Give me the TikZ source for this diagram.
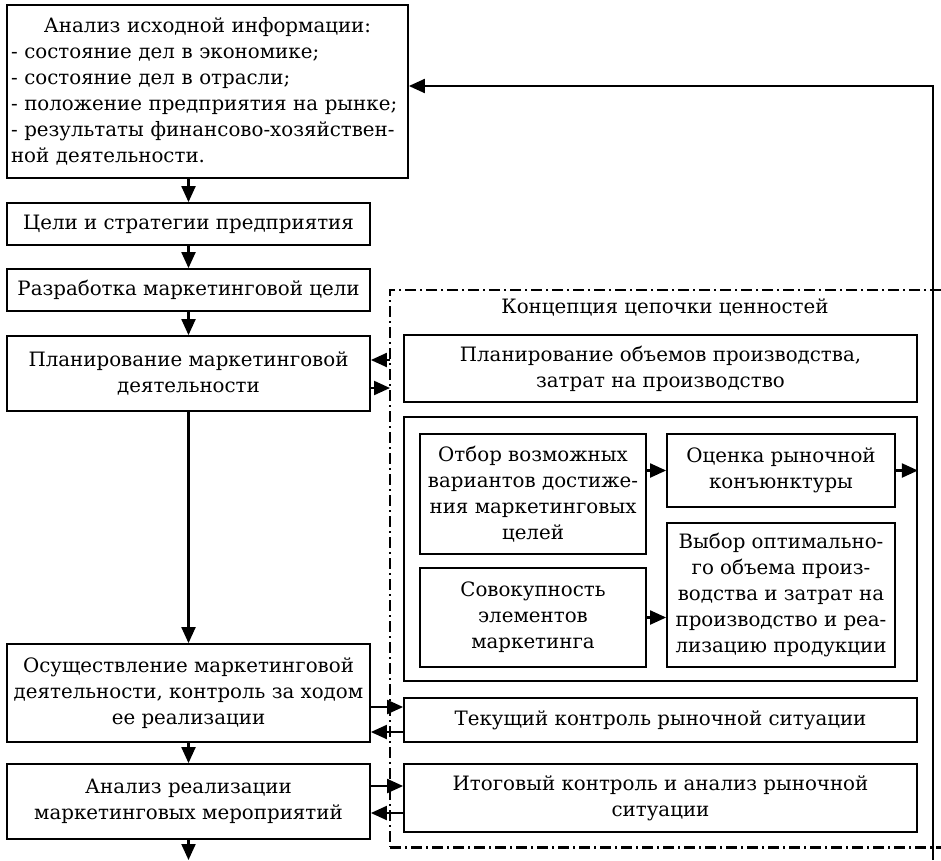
\documentclass[tikz,border=0pt]{standalone}
\usepackage{fontspec}
\setmainfont{DejaVu Serif}
\usetikzlibrary{arrows.meta}
\tikzset{
  blk/.style={draw,line width=1.8pt,inner sep=2pt,align=center,
    font=\fontsize{19.8}{26}\selectfont},
  flow/.style={line width=2.1pt,-{Triangle[length=16pt,width=14pt]}},
  vcframe/.style={line width=1.8pt,dash pattern=on 11pt off 4pt on 2pt off 4pt}
}

\begin{document}
\begin{tikzpicture}[x=1pt,y=-1pt]
  \useasboundingbox (0,0) rectangle (941,860);
  % main sequence
  \node[blk,minimum width=401pt,minimum height=173pt,text width=393pt,align=left] (info) at (207.5,91.5)
    {\hbox to \hsize{\hfil Анализ исходной информации:\hfil}
     - состояние дел в экономике;\\
     - состояние дел в отрасли;\\
     - положение предприятия на рынке;\\
     - результаты финансово-хозяйствен-\\
     ной деятельности.};
  \node[blk,minimum width=363pt,minimum height=42pt] (goals) at (188.5,224) {Цели и стратегии предприятия};
  \node[blk,minimum width=363pt,minimum height=42pt] (mgoal) at (188.5,290) {Разработка маркетинговой цели};
  \node[blk,minimum width=363pt,minimum height=75pt] (plan) at (188.5,373.5) {Планирование маркетинговой\\деятельности};
  \node[blk,minimum width=363pt,minimum height=98pt] (impl) at (188.5,693) {Осуществление маркетинговой\\деятельности, контроль за ходом\\ее реализации};
  \node[blk,minimum width=363pt,minimum height=75pt] (anal) at (188.5,801.5) {Анализ реализации\\маркетинговых мероприятий};
  \coordinate (out) at (188.5,860);
  \draw[flow] (goals.north |- info.south) -- (goals.north);
  \draw[flow] (goals) -- (mgoal);
  \draw[flow] (mgoal) -- (plan);
  \draw[flow] (plan) -- (impl);
  \draw[flow] (impl) -- (anal);
  \draw[flow] (anal) -- (out);

  % value chain concept
  \draw[vcframe] (941,290) -- (390,290) -- (390,847);
  \draw[vcframe,line width=3pt] (390,847) -- (941,847);
  \node[font=\fontsize{19.8}{26}\selectfont] (vctitle) at (665,307) {Концепция цепочки ценностей};
  \node[blk,minimum width=513pt,minimum height=67pt] (volume) at (660.5,368.5) {Планирование объемов производства,\\затрат на производство};
  \node[draw,line width=1.8pt,minimum width=513pt,minimum height=264pt] (inner) at (660.5,549) {};
  \node[blk,minimum width=226pt,minimum height=120pt] (select) at (533,494) {Отбор возможных\\вариантов достиже-\\ния маркетинговых\\целей};
  \node[blk,minimum width=228pt,minimum height=73pt] (market) at (781,470.5) {Оценка рыночной\\конъюнктуры};
  \node[blk,minimum width=226pt,minimum height=99pt] (mix) at (533,617.5) {Совокупность\\элементов\\маркетинга};
  \node[blk,minimum width=228pt,minimum height=144pt] (optim) at (781,595) {Выбор оптимально-\\го объема произ-\\водства и затрат на\\производство и реа-\\лизацию продукции};
  \node[blk,minimum width=513pt,minimum height=44pt] (curctl) at (660.5,720) {Текущий контроль рыночной ситуации};
  \node[blk,minimum width=513pt,minimum height=68pt] (finctl) at (660.5,798) {Итоговый контроль и анализ рыночной\\ситуации};
  \draw[flow] (select.east |- market) -- (market.west);
  \draw[flow] (mix.east) -- (optim.west |- mix.east);
  \draw[flow] (market.east) -- (inner.east |- market.east);

  % links between the columns
  \coordinate (fin) at (390,360);
  \coordinate (fout) at (390,388);
  \draw[flow] (fin) -- (plan.east |- fin);
  \draw[flow] (plan.east |- fout) -- (fout);
  \draw[flow] (impl.east |- 0,707) -- (curctl.west |- 0,707);
  \draw[flow] (curctl.west |- 0,732) -- (impl.east |- 0,732);
  \draw[flow] (anal.east |- 0,786) -- (finctl.west |- 0,786);
  \draw[flow] (finctl.west |- 0,813) -- (anal.east |- 0,813);

  % feedback to the start
  \coordinate (fbbot) at (933,860);
  \coordinate (fbtop) at (933,86);
  \draw[flow] (fbbot) -- (fbtop) -- (info.east |- fbtop);
\end{tikzpicture}
\end{document}
